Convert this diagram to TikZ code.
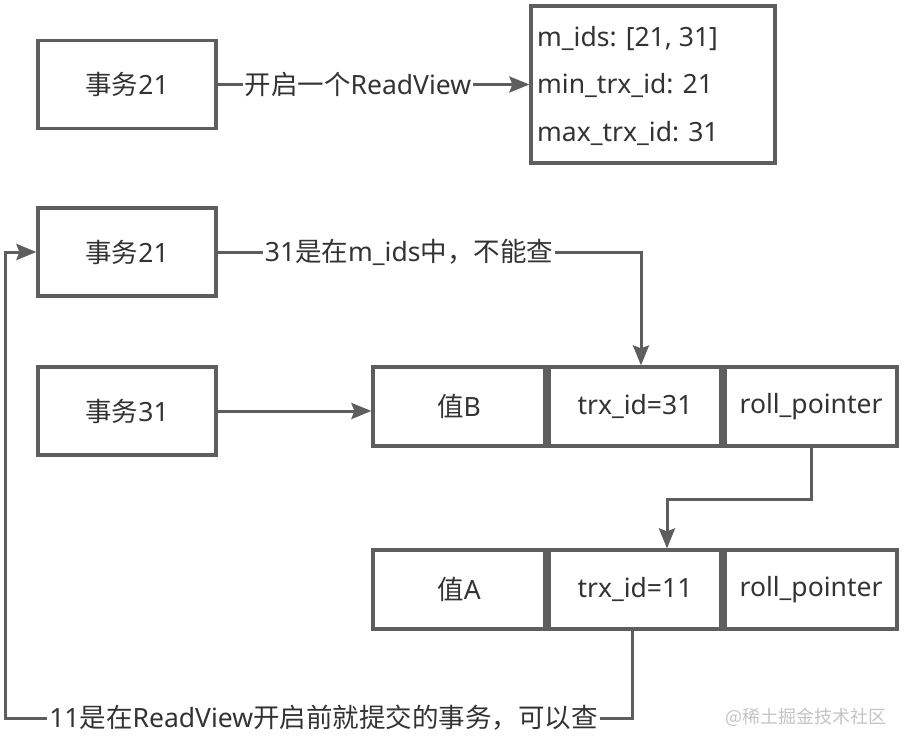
\documentclass[tikz,border=0pt]{standalone}
\usepackage{fontspec}
\setmainfont{Noto Sans}
\newfontfamily\cjk{Noto Sans CJK SC}
\newcommand{\zh}[1]{{\cjk #1}}
\usetikzlibrary{arrows.meta,calc}
\definecolor{ln}{HTML}{5E5E5E}
\definecolor{tx}{HTML}{333333}
\definecolor{wm}{HTML}{C4C4C4}
\begin{document}
\begin{tikzpicture}[x=1pt,y=-1pt,
  fnt/.style={font=\fontsize{26.5}{30}\selectfont},
  box/.style={draw=ln,line width=3.2pt,minimum width=178pt,minimum height=88pt,inner sep=0pt,text=tx,fnt},
  cell/.style={draw=ln,line width=3.2pt,minimum width=172pt,minimum height=79pt,inner sep=0pt,text=tx,fnt},
  conn/.style={draw=ln,line width=3pt,-{Stealth[length=20pt,width=16pt,inset=3pt]}},
  lbl/.style={fill=white,inner sep=2pt,text=tx,fnt},
  txt/.style={inner sep=0pt,text=tx,fnt,anchor=base west}
]
\path[use as bounding box] (0,0) rectangle (908,748);
\fill[white] (0,0) rectangle (908,748);

\node[box] (s21a) at (127,84.5) {\zh{事务}21};
\node[box] (s21b) at (127,252) {\zh{事务}21};
\node[box] (s31) at (127,411) {\zh{事务}31};

\node[draw=ln,line width=3.2pt,minimum width=244pt,minimum height=157pt,inner sep=0pt] (rv) at (653,84.5) {};
\node[txt] (rv1) at (537,46) {m\_ids: [21, 31]};
\node[txt] (rv2) at (537,93) {min\_trx\_id: 21};
\node[txt] (rv3) at (537,141) {max\_trx\_id: 31};

\node[cell] (b1) at (459,406.5) {\zh{值}B};
\node[cell] (b2) at (635,406.5) {trx\_id=31};
\node[cell] (b3) at (811,406.5) {roll\_pointer};
\node[cell] (a1) at (459,589.5) {\zh{值}A};
\node[cell] (a2) at (635,589.5) {trx\_id=11};
\node[cell] (a3) at (811,589.5) {roll\_pointer};

\coordinate (lc) at (5,718);

\draw[conn] (s21a.east) -- (rv.west |- s21a.east) node[lbl,pos=0.45] {\zh{开启一个}ReadView};
\draw[conn] (s21b.east) -| node[lbl,pos=0.226] {31\zh{是在}m\_ids\zh{中，不能查}} ($(b2.north)+(6,0)$);
\draw[conn] (s31.east) -- (s31.east -| b1.west);
\draw[conn] (b3.south) -- ++(0,52) -| ($(a2.north)+(32,0)$);
\draw[conn] ($(a2.south)+(-3,0)$) |- node[lbl,pos=0.746] {11\zh{是在}ReadView\zh{开启前就提交的事务，可以查}} (lc) |- (s21b.west);

\node[text=wm,font=\cjk\fontsize{18}{20}\selectfont] (wmk) at (806,717) {@稀土掘金技术社区};
\end{tikzpicture}
\end{document}
